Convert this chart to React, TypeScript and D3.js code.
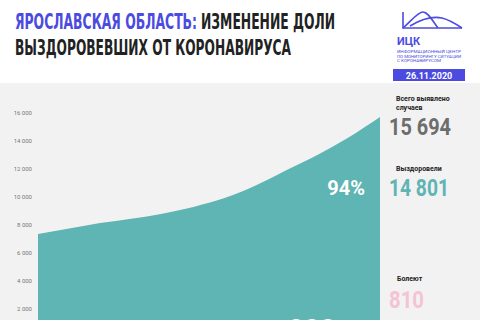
import React from 'react';
import * as d3 from 'd3';

// cumulative detected cases, evenly spaced points
const totalCases = [7340, 7720, 8120, 8430, 8790, 9270, 9900, 10800, 11900, 13000, 14250, 15694];
const yTicks = [2000, 4000, 6000, 8000, 10000, 12000, 14000, 16000];

const statLabels = ['Всего выявлено', 'Выздоровели', 'Болеют'];
const statValues = [15694, 14801, 810];
const recoveredShare = '94%';
const notRecovered = 893;
const reportDate = '26.11.2020';

const W = 480;
const H = 320;
const BLUE = '#4b4be0';
const TEAL = '#5fb4b4';

const fmt = (v: number) => d3.format(',')(v).replace(/,/g, ' ');

const App: React.FC = () => {
  const x = d3.scaleLinear().domain([0, totalCases.length - 1]).range([38, 380]);
  const y = d3.scaleLinear().domain([0, 16000]).range([336.7, 112.7]);

  const area = d3.area<number>()
    .x((_, i) => x(i))
    .y0(y(0))
    .y1(d => y(d))
    .curve(d3.curveMonotoneX);

  const titleFont = '"DejaVu Sans Condensed", "DejaVu Sans", sans-serif';
  const numFont = 'Roboto, "Liberation Sans", sans-serif';

  return (
    <div style={{ position: 'absolute', left: 0, top: 0 }}>
      <svg width={W} height={H} style={{ display: 'block' }}>
        <rect x={0} y={0} width={W} height={H} fill="#ffffff" />
        <rect x={0} y={83} width={W} height={H - 83} fill="#f2f2f2" />

        {/* title */}
        <text x={15} y={29} fontFamily={titleFont} fontWeight="bold" fontSize={21}
          fill={BLUE} textLength={182} lengthAdjust="spacingAndGlyphs">ЯРОСЛАВСКАЯ ОБЛАСТЬ:</text>
        <text x={201} y={29} fontFamily={titleFont} fontWeight="bold" fontSize={21}
          fill="#222" textLength={134} lengthAdjust="spacingAndGlyphs">ИЗМЕНЕНИЕ ДОЛИ</text>
        <text x={15} y={55} fontFamily={titleFont} fontWeight="bold" fontSize={21}
          fill="#222" textLength={276} lengthAdjust="spacingAndGlyphs">ВЫЗДОРОВЕВШИХ ОТ КОРОНАВИРУСА</text>

        {/* logo */}
        <g fill="none" stroke={BLUE} strokeWidth={1.6}>
          <path d="M403,12 L403,28 L462,28" />
          <path d="M403,28 C412,20 418,12 423,12 C428,12 432,20 438,28" />
          <path d="M410,26 C420,20 432,16 442,18 C450,20 456,24 462,28" />
        </g>
        <text x={397} y={45} fontFamily={numFont} fontWeight="bold" fontSize={11} fill={BLUE}>ИЦК</text>
        <g fontFamily={numFont} fontSize={3.6} fill={BLUE}>
          <text x={397} y={53} textLength={64} lengthAdjust="spacingAndGlyphs">ИНФОРМАЦИОННЫЙ ЦЕНТР</text>
          <text x={397} y={57.5} textLength={64} lengthAdjust="spacingAndGlyphs">ПО МОНИТОРИНГУ СИТУАЦИИ</text>
          <text x={397} y={62} textLength={44} lengthAdjust="spacingAndGlyphs">С КОРОНАВИРУСОМ</text>
        </g>
        <rect x={393} y={69} width={72} height={12} fill={BLUE} />
        <text x={429} y={78.5} textAnchor="middle" fontFamily={numFont} fontWeight="bold"
          fontSize={9} fill="#fff">{reportDate}</text>

        {/* y axis labels */}
        {yTicks.map(t => (
          <text key={t} x={32} y={y(t) + 2} textAnchor="end" fontFamily={numFont}
            fontSize={6} fill="#777">{fmt(t)}</text>
        ))}

        {/* area */}
        <path d={area(totalCases) ?? ''} fill={TEAL} />

        <text x={365} y={195} textAnchor="end" fontFamily={numFont} fontWeight="bold"
          fontSize={20} fill="#fff">{recoveredShare}</text>
        <text x={312} y={339} textAnchor="middle" fontFamily={numFont} fontWeight="bold"
          fontSize={28} fill="#fff">{notRecovered}</text>

        {/* stats panel */}
        <g fontFamily={numFont} fontWeight="bold" fontSize={7} fill="#222">
          <text x={396} y={101}>{statLabels[0]}</text>
          <text x={396} y={110}>случаев</text>
          <text x={396} y={171}>{statLabels[1]}</text>
          <text x={397} y={281}>{statLabels[2]}</text>
        </g>
        <g fontFamily={numFont} fontWeight="bold" fontSize={23}>
          <text x={389} y={135} fill="#6d6d6d" textLength={62} lengthAdjust="spacingAndGlyphs">{fmt(statValues[0])}</text>
          <text x={389} y={196} fill={TEAL} textLength={60} lengthAdjust="spacingAndGlyphs">{fmt(statValues[1])}</text>
          <text x={389} y={308} fill="#f5c3d3" textLength={35} lengthAdjust="spacingAndGlyphs">{fmt(statValues[2])}</text>
        </g>
      </svg>
    </div>
  );
};

export default App;
